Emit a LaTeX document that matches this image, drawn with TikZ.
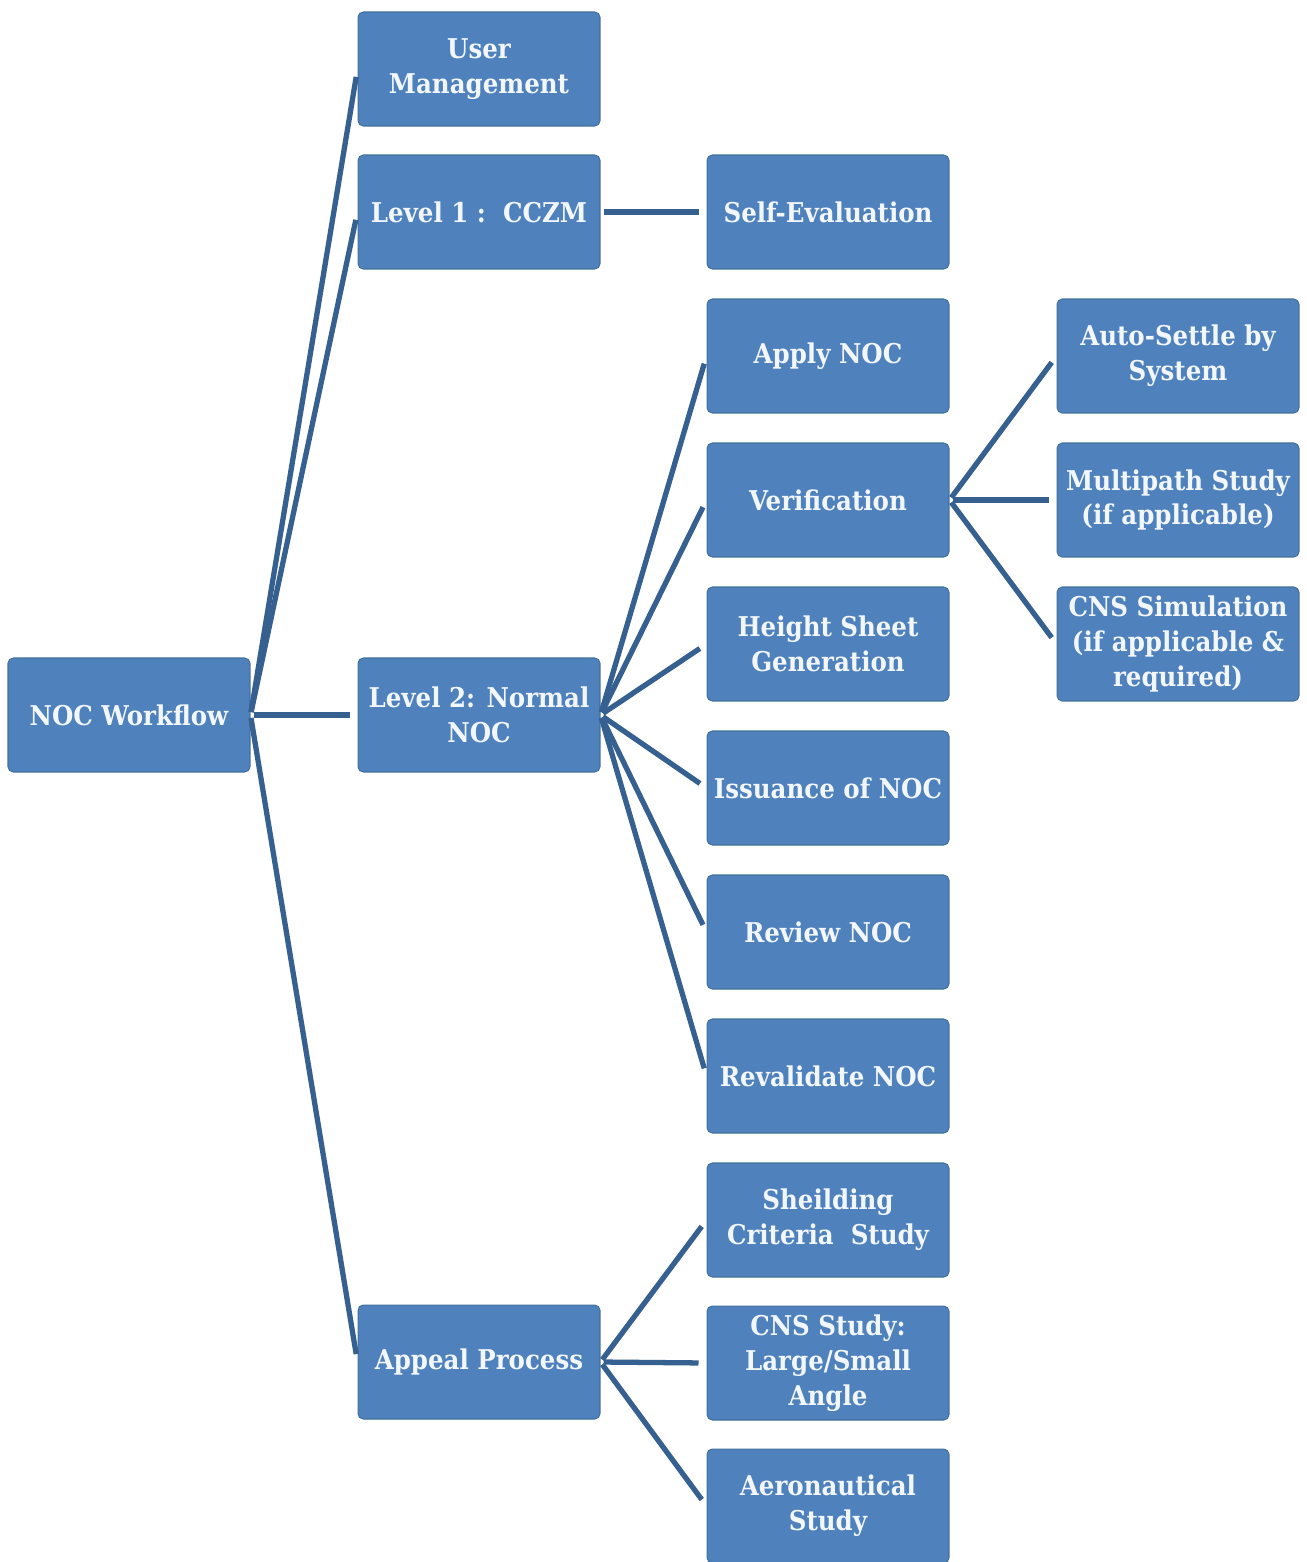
\documentclass[tikz,border=0pt]{standalone}
\usepackage{fontspec}
\setmainfont{DejaVu Serif Condensed}
\definecolor{boxfill}{HTML}{4F81BD}
\definecolor{boxedge}{HTML}{41719C}
\definecolor{linkcol}{HTML}{35608F}
\definecolor{boxtext}{HTML}{F2F7FD}
\tikzset{
  box/.style={draw=boxedge, line width=0.6pt, fill=boxfill, rounded corners=3pt,
    minimum width=4.84cm, minimum height=2.28cm, inner sep=1pt, align=center,
    text=boxtext, font=\bfseries\fontsize{15.5}{19.8}\selectfont},
  link/.style={draw=linkcol, line width=3pt, shorten <=0.06cm, shorten >=0.16cm}
}
\begin{document}
\begin{tikzpicture}[x=0.02cm, y=-0.02cm]
\useasboundingbox (0,0) rectangle (1307,1562);
\fill[white] (0,0) rectangle (1307,1562);
% root
\node[box] (root) at (129,715) {NOC Workflow};
% first level
\node[box] (um) at (479,69) {User\\Management};
\node[box] (l1) at (479,212) {Level 1 :\ \ CCZM};
\node[box] (l2) at (479,715) {Level 2: Normal\\NOC};
\node[box] (ap) at (479,1362) {Appeal Process};
% second level
\node[box] (se) at (828,212) {Self-Evaluation};
\node[box] (apply) at (828,356) {Apply NOC};
\node[box] (ver) at (828,500) {Verification};
\node[box] (hs) at (828,644) {Height Sheet\\Generation};
\node[box] (iss) at (828,788) {Issuance of NOC};
\node[box] (rev) at (828,932) {Review NOC};
\node[box] (reval) at (828,1076) {Revalidate NOC};
\node[box] (sh) at (828,1220) {Sheilding\\Criteria\ \ Study};
\node[box] (cns) at (828,1363) {CNS Study:\\Large/Small\\Angle};
\node[box] (aero) at (828,1506) {Aeronautical\\Study};
% third level
\node[box] (auto) at (1178,356) {Auto-Settle by\\System};
\node[box] (multi) at (1178,500) {Multipath Study\\(if applicable)};
\node[box] (cnssim) at (1178,644) {CNS Simulation\\(if applicable \&\\required)};
% connectors
\foreach \c in {um,l1,l2,ap} \draw[link] (root.east) -- (\c.west);
\draw[link] (l1.east) -- (se.west);
\foreach \c in {apply,ver,hs,iss,rev,reval} \draw[link] (l2.east) -- (\c.west);
\foreach \c in {sh,cns,aero} \draw[link] (ap.east) -- (\c.west);
\foreach \c in {auto,multi,cnssim} \draw[link] (ver.east) -- (\c.west);
\end{tikzpicture}
\end{document}
